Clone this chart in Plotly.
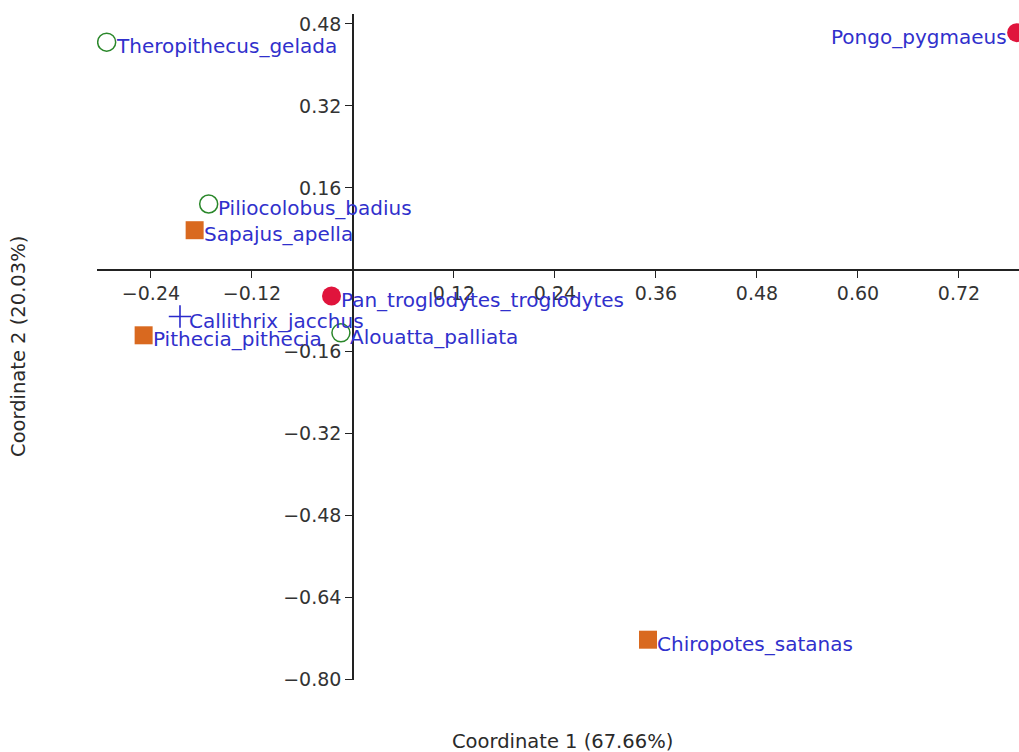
import plotly.graph_objects as go

# ---- data ----
names = ["Theropithecus_gelada", "Pongo_pygmaeus", "Piliocolobus_badius", "Sapajus_apella",
         "Pan_troglodytes_troglodytes", "Callithrix_jacchus", "Pithecia_pithecia",
         "Alouatta_palliata", "Chiropotes_satanas"]
coord1 = [-0.2926, 0.7885, -0.1714, -0.1881, -0.0255, -0.2055, -0.2487, -0.0143, 0.3505]
coord2 = [0.4445, 0.4631, 0.1285, 0.0773, -0.0511, -0.0913, -0.1279, -0.1231, -0.7223]
groups = ["open", "red", "open", "square", "red", "cross", "square", "open", "square"]

x_ticks = [-0.24, -0.12, 0.12, 0.24, 0.36, 0.48, 0.60, 0.72]
y_ticks = [0.48, 0.32, 0.16, -0.16, -0.32, -0.48, -0.64, -0.80]
x_title = "Coordinate 1 (67.66%)"
y_title = "Coordinate 2 (20.03%)"

# ---- styles ----
BLUE = "#3030cc"
FONT = "DejaVu Sans"
styles = {
    "open": dict(symbol="circle-open", size=18, color="#2a872a", line=dict(width=1.5, color="#2a872a")),
    "red": dict(symbol="circle", size=19, color="#e0143c", line=dict(width=0)),
    "square": dict(symbol="square", size=18, color="#d9691f", line=dict(width=0)),
    "cross": dict(symbol="cross-thin-open", size=16, color="#2a2acc", line=dict(width=1.6, color="#2a2acc")),
}
left_labels = {"Pongo_pygmaeus"}

x_range = [-0.3041, 0.7913]
y_range = [-0.8010, 0.4995]

fig = go.Figure()
for g in ["open", "red", "square", "cross"]:
    idx = [i for i, gg in enumerate(groups) if gg == g]
    fig.add_trace(go.Scatter(
        x=[coord1[i] for i in idx], y=[coord2[i] for i in idx],
        mode="markers", marker=styles[g], showlegend=False, hoverinfo="skip"))

annotations = []
for n, xv, yv in zip(names, coord1, coord2):
    left = n in left_labels
    annotations.append(dict(
        x=xv, y=yv, xref="x", yref="y", text=n, showarrow=False,
        xanchor="right" if left else "left", yanchor="middle",
        xshift=-8 if left else 7, yshift=-4,
        font=dict(family=FONT, size=20, color=BLUE)))

annotations.append(dict(x=0.5054, y=-0.0916, xref="paper", yref="paper", text=x_title,
                        showarrow=False, xanchor="center", yanchor="middle",
                        font=dict(family=FONT, size=19.5, color="#2a2a2a")))
annotations.append(dict(x=-0.0857, y=0.5015, xref="paper", yref="paper", text=y_title,
                        showarrow=False, xanchor="center", yanchor="middle", textangle=-90,
                        font=dict(family=FONT, size=19.5, color="#2a2a2a")))

xpos = (0 - y_range[0]) / (y_range[1] - y_range[0])
ypos = (0 - x_range[0]) / (x_range[1] - x_range[0])

axis_common = dict(showgrid=False, zeroline=False, showline=True, linecolor="#222222",
                   linewidth=1.6, ticks="outside", ticklen=7, tickwidth=1.4, tickcolor="#222222",
                   tickformat=".2f", tickfont=dict(family=FONT, size=19, color="#333333"))

fig.update_layout(
    width=1019, height=752,
    margin=dict(l=97, r=0, t=14, b=72),
    paper_bgcolor="white", plot_bgcolor="white",
    xaxis=dict(range=x_range, tickvals=x_ticks, anchor="free", position=xpos, side="bottom",
               **axis_common),
    yaxis=dict(range=y_range, tickvals=y_ticks, anchor="free", position=ypos, side="left",
               **axis_common),
    annotations=annotations,
)

fig.write_html("out.html")
